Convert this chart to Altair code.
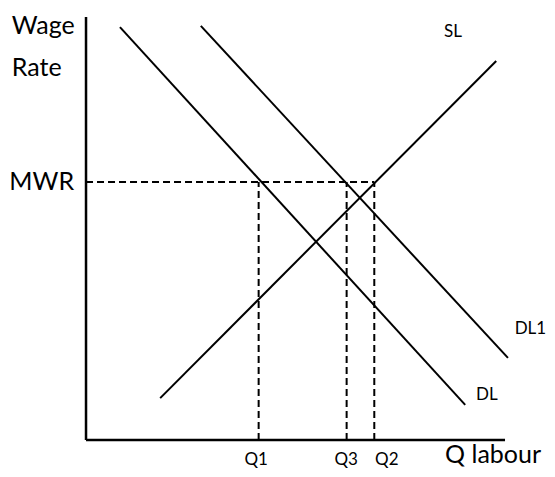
import altair as alt
import pandas as pd

# Curves (quantity of labour, wage rate) endpoints
curve_names = ["DL", "DL", "DL1", "DL1", "SL", "SL"]
curve_q = [8.1, 90.5, 27.4, 100.7, 17.7, 97.9]
curve_w = [97.6, 8.3, 97.9, 19.4, 9.9, 89.6]

# Minimum wage and quantities
MWR = 61.0
q_names = ["Q1", "Q3", "Q2"]
q_values = [41.2, 62.2, 68.8]

# Label texts and positions (data units)
big_left_text = ["Wage", "Rate", "MWR", "Q labour"]
big_left_x = [-17.7, -17.7, -18.3, 85.7]
big_left_y = [96.0, 86.1, 59.1, -5.4]

small_center_text = ["SL", "Q1", "Q3", "Q2"]
small_center_x = [87.6, 40.6, 62.1, 71.8]
small_center_y = [95.3, -5.9, -5.9, -5.9]

small_left_text = ["DL1", "DL"]
small_left_x = [102.3, 93.1]
small_left_y = [25.1, 9.5]

XDOM = [-18.62, 110.02]
YDOM = [-6.86, 102.13]
FONT = "Lato"

xs = alt.Scale(domain=XDOM, nice=False, zero=False)
ys = alt.Scale(domain=YDOM, nice=False, zero=False)

curves = pd.DataFrame({"curve": curve_names, "q": curve_q, "w": curve_w,
                       "order": [0, 1, 0, 1, 0, 1]})

line_layer = alt.Chart(curves).mark_line(color="black", strokeWidth=2, clip=False).encode(
    x=alt.X("q:Q", scale=xs, axis=None),
    y=alt.Y("w:Q", scale=ys, axis=None),
    detail="curve:N",
    order="order:Q",
)

axes_df = pd.DataFrame({"x": [0, 0], "x2": [0, 100], "y": [0, 0], "y2": [100, 0]})
axes_layer = alt.Chart(axes_df).mark_rule(color="black", strokeWidth=2.5).encode(
    x=alt.X("x:Q", scale=xs, axis=None), x2="x2:Q",
    y=alt.Y("y:Q", scale=ys, axis=None), y2="y2:Q",
)

dash_df = pd.DataFrame({
    "x": [0] + q_values,
    "x2": [max(q_values)] + q_values,
    "y": [MWR] + [0] * len(q_values),
    "y2": [MWR] + [MWR] * len(q_values),
})
dash_layer = alt.Chart(dash_df).mark_rule(color="black", strokeWidth=2, strokeDash=[7, 4]).encode(
    x=alt.X("x:Q", scale=xs, axis=None), x2="x2:Q",
    y=alt.Y("y:Q", scale=ys, axis=None), y2="y2:Q",
)

def text_layer(texts, xv, yv, align, size):
    df = pd.DataFrame({"t": texts, "x": xv, "y": yv})
    return alt.Chart(df).mark_text(align=align, baseline="alphabetic", font=FONT,
                                   fontSize=size, color="black", clip=False).encode(
        x=alt.X("x:Q", scale=xs, axis=None),
        y=alt.Y("y:Q", scale=ys, axis=None),
        text="t:N",
    )

chart = alt.layer(
    axes_layer, dash_layer, line_layer,
    text_layer(big_left_text, big_left_x, big_left_y, "left", 25),
    text_layer(small_center_text, small_center_x, small_center_y, "center", 17),
    text_layer(small_left_text, small_left_x, small_left_y, "left", 17),
).properties(
    width=539, height=461, padding=0, autosize=alt.AutoSizeParams(type="none")
).configure_view(stroke=None)

chart.save("out.html", embed_options={"renderer": "svg", "actions": False})
